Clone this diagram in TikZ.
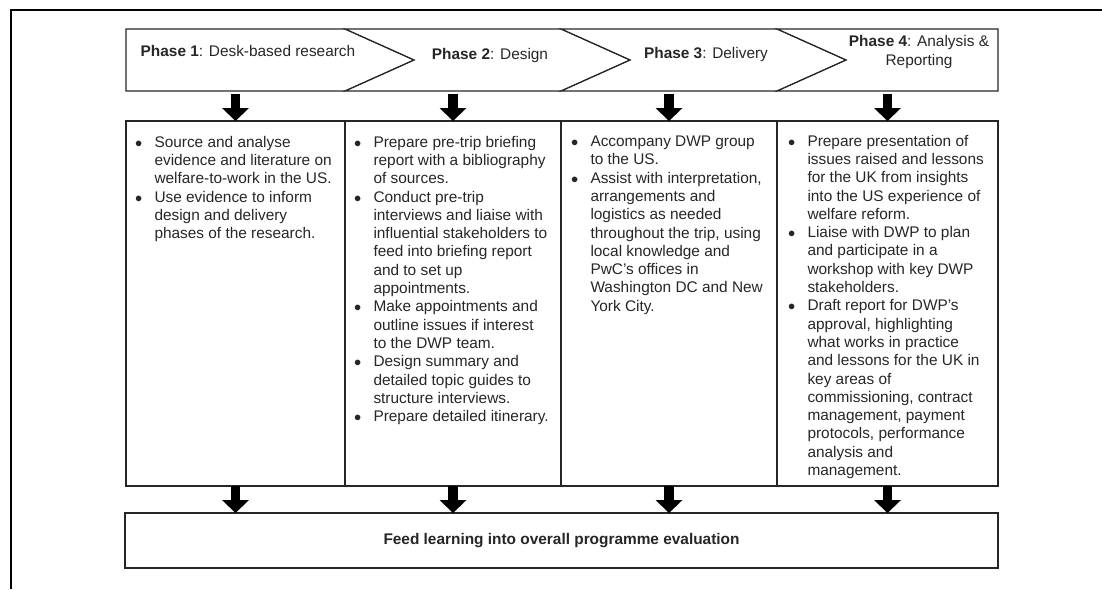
\documentclass[tikz,border=0pt]{standalone}
\usepackage{fontspec}
\setmainfont{Liberation Sans}
\usetikzlibrary{arrows.meta}
\definecolor{ink}{HTML}{262626}
\newcommand{\pbul}{\makebox[19.5pt][l]{$\bullet$}}
\newcommand{\pind}{\hspace*{19.5pt}}
\begin{document}
\begin{tikzpicture}[x=1pt,y=-1pt,
  every node/.style={inner sep=0pt, outer sep=0pt, text=ink},
  txt/.style={font=\fontsize{15.4}{18.6}\selectfont},
  coltext/.style={font=\fontsize{15.4}{18.3}\selectfont, align=left, anchor=north west},
  colbox/.style={draw=ink, line width=1.1pt, minimum height=365pt, anchor=north west},
  chev/.style={draw=ink, line width=1.1pt, line join=miter},
  frameline/.style={draw=black, line width=2.5pt},
  blockarrow/.style={draw=black, line width=9.3pt,
    -{Triangle[width=27pt,length=13pt,line width=0pt]}}]
\useasboundingbox (0,0) rectangle (1102,589);
% outer frame (top and left sides)
\draw[frameline] (11,589) -- (11,10) -- (1102,10);
% phase chevrons
\draw[chev] (126,29) -- (345,29) -- (414,60) -- (345,91) -- (126,91) -- cycle;
\draw[chev] (345,29) -- (561,29) -- (630,60) -- (561,91) -- (345,91) -- (414,60) -- cycle;
\draw[chev] (561,29) -- (777,29) -- (846,60) -- (777,91) -- (561,91) -- (630,60) -- cycle;
\draw[chev] (777,29) -- (998,29) -- (998,91) -- (777,91) -- (846,60) -- cycle;
\node[txt] (ph1) at (248,51) {\textbf{Phase 1}: Desk-based research};
\node[txt] (ph2) at (490,56) {\textbf{Phase 2}: Design};
\node[txt] (ph3) at (706,55) {\textbf{Phase 3}: Delivery};
\node[txt, align=center] (ph4) at (919,52) {\textbf{Phase 4}: Analysis \&\\Reporting};
\coordinate (c1) at (235.5,91);
\coordinate (c2) at (453,91);
\coordinate (c3) at (669,91);
\coordinate (c4) at (887.5,91);
% columns
\node[colbox, minimum width=219pt] (col1) at (126,121) {};
\node[colbox, minimum width=216pt] (col2) at (345,121) {};
\node[colbox, minimum width=216pt] (col3) at (561,121) {};
\node[colbox, minimum width=221pt] (col4) at (777,121) {};
% bottom box
\node[draw=ink, line width=1.1pt, minimum width=873pt, minimum height=55pt,
  anchor=north west, txt] (eval) at (125,513) {\textbf{Feed learning into overall programme evaluation}};
% column texts
\node[coltext] (t1) at (135,136) {\pbul Source and analyse\\
\pind evidence and literature on\\
\pind welfare-to-work in the US.\\
\pbul Use evidence to inform\\
\pind design and delivery\\
\pind phases of the research.};
\node[coltext] (t2) at (354,136) {\pbul Prepare pre-trip briefing\\
\pind report with a bibliography\\
\pind of sources.\\
\pbul Conduct pre-trip\\
\pind interviews and liaise with\\
\pind influential stakeholders to\\
\pind feed into briefing report\\
\pind and to set up\\
\pind appointments.\\
\pbul Make appointments and\\
\pind outline issues if interest\\
\pind to the DWP team.\\
\pbul Design summary and\\
\pind detailed topic guides to\\
\pind structure interviews.\\
\pbul Prepare detailed itinerary.};
\node[coltext] (t3) at (571,136) {\pbul Accompany DWP group\\
\pind to the US.\\
\pbul Assist with interpretation,\\
\pind arrangements and\\
\pind logistics as needed\\
\pind throughout the trip, using\\
\pind local knowledge and\\
\pind PwC’s offices in\\
\pind Washington DC and New\\
\pind York City.};
\node[coltext] (t4) at (788,135) {\pbul Prepare presentation of\\
\pind issues raised and lessons\\
\pind for the UK from insights\\
\pind into the US experience of\\
\pind welfare reform.\\
\pbul Liaise with DWP to plan\\
\pind and participate in a\\
\pind workshop with key DWP\\
\pind stakeholders.\\
\pbul Draft report for DWP's\\
\pind approval, highlighting\\
\pind what works in practice\\
\pind and lessons for the UK in\\
\pind key areas of\\
\pind commissioning, contract\\
\pind management, payment\\
\pind protocols, performance\\
\pind analysis and\\
\pind management.};
% arrows
\foreach \i in {1,2,3,4}{
  \draw[blockarrow, shorten <=3pt] (c\i) -- (col\i.north);
  \draw[blockarrow] (col\i.south) -- (col\i.south |- eval.north);
}
\end{tikzpicture}
\end{document}
